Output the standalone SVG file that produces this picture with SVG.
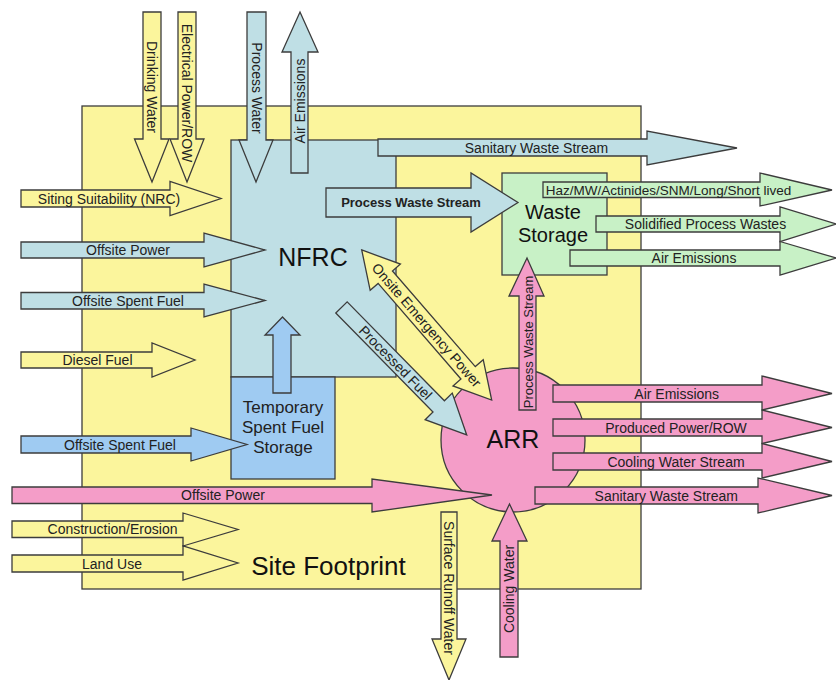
<svg xmlns="http://www.w3.org/2000/svg" width="836" height="680" viewBox="0 0 836 680">
<style>
.y{fill:#FBF59C;stroke:#3c3c3c;stroke-width:1.3}
.b{fill:#BFDFE5;stroke:#3c3c3c;stroke-width:1.3}
.t{fill:#9FCBF2;stroke:#3c3c3c;stroke-width:1.3}
.g{fill:#C8F1C6;stroke:#3c3c3c;stroke-width:1.3}
.p{fill:#F49DC8;stroke:#3c3c3c;stroke-width:1.3}
.lbl{font-family:"Liberation Sans",Arial,sans-serif;font-size:14px;fill:#222;text-anchor:middle}
.big{font-family:"Liberation Sans",Arial,sans-serif;font-size:25px;fill:#111;text-anchor:middle}
.mid{font-family:"Liberation Sans",Arial,sans-serif;font-size:20px;fill:#111;text-anchor:middle}
.sm{font-family:"Liberation Sans",Arial,sans-serif;font-size:17px;fill:#222;text-anchor:middle}
</style>
<rect width="836" height="680" fill="#ffffff"/>
<g id="site-footprint">
<rect class="y" x="82" y="106" width="559" height="483"/>
<text class="big" x="328.5" y="575" style="font-size:26px">Site Footprint</text>
</g>
<g id="nfrc">
<rect class="b" x="231" y="140" width="165" height="237"/>
<text class="big" x="313" y="266">NFRC</text>
</g>
<g id="temporary-spent-fuel-storage">
<rect class="t" x="231" y="377" width="104" height="102"/>
<text class="sm" x="283" y="413">Temporary</text>
<text class="sm" x="283" y="433">Spent Fuel</text>
<text class="sm" x="283" y="453">Storage</text>
</g>
<g id="waste-storage">
<rect class="g" x="502" y="173" width="105" height="102"/>
<text class="mid" x="553" y="219">Waste</text>
<text class="mid" x="553" y="242">Storage</text>
</g>
<g id="arr">
<circle class="p" cx="513" cy="440" r="72"/>
<text class="big" x="513" y="448">ARR</text>
</g>
<g id="connectors">
<!-- top inputs/outputs -->
<polygon class="y" points="143,12 161,12 161,139 169,139 152,182 134.5,139 143,139"/>
<text class="lbl" transform="translate(151.5,87) rotate(90)" y="5">Drinking Water</text>
<polygon class="y" points="178,12 196,12 196,139 204,139 187,182 170,139 178,139"/>
<text class="lbl" transform="translate(187,93) rotate(90)" y="5">Electrical Power/ROW</text>
<polygon class="b" points="247,12 266,12 266,140 273,140 256,182 239,140 247,140"/>
<text class="lbl" transform="translate(256.5,88) rotate(90)" y="5">Process Water</text>
<polygon class="b" points="291,173 291,52 282,52 300,12 318,52 308,52 308,173"/>
<text class="lbl" transform="translate(299.7,101) rotate(-90)" y="5">Air Emissions</text>
<!-- left inputs -->
<polygon class="y" points="21,190 170,190 170,181.5 221,198.5 170,215.5 170,207 21,207"/>
<text class="lbl" x="109" y="203.5">Siting Suitability (NRC)</text>
<polygon class="b" points="21,242 204,242 204,233 265,250 204,267 204,258 21,258"/>
<text class="lbl" x="128" y="255">Offsite Power</text>
<polygon class="b" points="21,292.5 204,292.5 204,284 265,300.5 204,317 204,309 21,309"/>
<text class="lbl" x="128" y="305.5">Offsite Spent Fuel</text>
<polygon class="y" points="21,352 152,352 152,343 195,360 152,377 152,368 21,368"/>
<text class="lbl" x="97.5" y="365">Diesel Fuel</text>
<polygon class="t" points="21,436 191,436 191,428 247,444.5 191,461 191,453 21,453"/>
<text class="lbl" x="120" y="449.5">Offsite Spent Fuel</text>
<polygon class="p" points="12,487 372,487 372,479 492,495 372,512 372,503.5 12,503.5"/>
<text class="lbl" x="223" y="500">Offsite Power</text>
<polygon class="y" points="12,521 183,521 183,513 238,529.5 183,546 183,537.5 12,537.5"/>
<text class="lbl" x="112.5" y="534">Construction/Erosion</text>
<polygon class="y" points="12,555 183,555 183,546 238,563 183,580 183,572 12,572"/>
<text class="lbl" x="112" y="568.5">Land Use</text>
<!-- temp storage to NFRC -->
<polygon class="t" points="273,393 273,335 265,335 282.5,317 300,335 291,335 291,393"/>
<!-- NFRC outputs -->
<polygon class="b" points="378,139 647,139 647,131 737,148 647,165 647,156 378,156"/>
<text class="lbl" x="536.5" y="152.5">Sanitary Waste Stream</text>
<polygon class="b" points="326,188 471,188 471,173 518,202.5 471,232 471,217 326,217"/>
<text class="lbl" x="411" y="207" style="font-weight:bold;font-size:13px">Process Waste Stream</text>
<!-- diagonal arrows -->
<g transform="translate(426.7,325) rotate(49.1)">
<polygon class="y" points="-99.25,0 -63.25,-20 -63.25,-9.5 63.25,-9.5 63.25,-20 99.25,0 63.25,20 63.25,9.5 -63.25,9.5 -63.25,20"/>
<text class="lbl" x="0" y="5">Onsite Emergency Power</text>
</g>
<g transform="translate(404.1,371.2) rotate(45.5)">
<polygon class="b" points="-89.35,-8 49.35,-8 49.35,-19 89.35,0 49.35,19 49.35,8 -89.35,8"/>
<text class="lbl" x="-12" y="5">Processed Fuel</text>
</g>
<!-- Waste storage outputs -->
<polygon class="g" points="543,182 760,182 760,173 832,190 760,206 760,197.5 543,197.5"/>
<text class="lbl" x="668.5" y="194.5" style="font-size:13.5px">Haz/MW/Actinides/SNM/Long/Short lived</text>
<polygon class="g" points="596,216 780,216 780,207 836,224 780,241.5 780,232 596,232"/>
<text class="lbl" x="705.5" y="229">Solidified Process Wastes</text>
<polygon class="g" points="570,250 780,250 780,241.5 836,258 780,275 780,266 570,266"/>
<text class="lbl" x="694" y="263">Air Emissions</text>
<!-- ARR to waste storage -->
<polygon class="p" points="519,410 519,296 509,296 527,258 544,296 536,296 536,410"/>
<text class="lbl" transform="translate(527.5,342) rotate(-90)" y="5" style="font-size:13px">Process Waste Stream</text>
<!-- ARR outputs -->
<polygon class="p" points="553,385 762,385 762,376 832,393.5 762,410 762,402 553,402"/>
<text class="lbl" x="676.7" y="398.5">Air Emissions</text>
<polygon class="p" points="553,419 762,419 762,410 832,427.5 762,443.5 762,436 553,436"/>
<text class="lbl" x="676" y="432.5">Produced Power/ROW</text>
<polygon class="p" points="553,453 762,453 762,443.5 832,461.5 762,478 762,470 553,470"/>
<text class="lbl" x="676" y="466.5">Cooling Water Stream</text>
<polygon class="p" points="535,487 758,487 758,478 832,495.5 758,513 758,504 535,504"/>
<text class="lbl" x="666.3" y="500.5">Sanitary Waste Stream</text>
<!-- bottom -->
<polygon class="y" points="441,512 457,512 457,639 466,639 449,680 432,639 441,639"/>
<text class="lbl" transform="translate(449,588) rotate(90)" y="5">Surface Runoff Water</text>
<polygon class="p" points="500,657 500,541 492,541 509.5,504 527,541 518,541 518,657"/>
<text class="lbl" transform="translate(509,589) rotate(-90)" y="5">Cooling Water</text>
</g>
</svg>
